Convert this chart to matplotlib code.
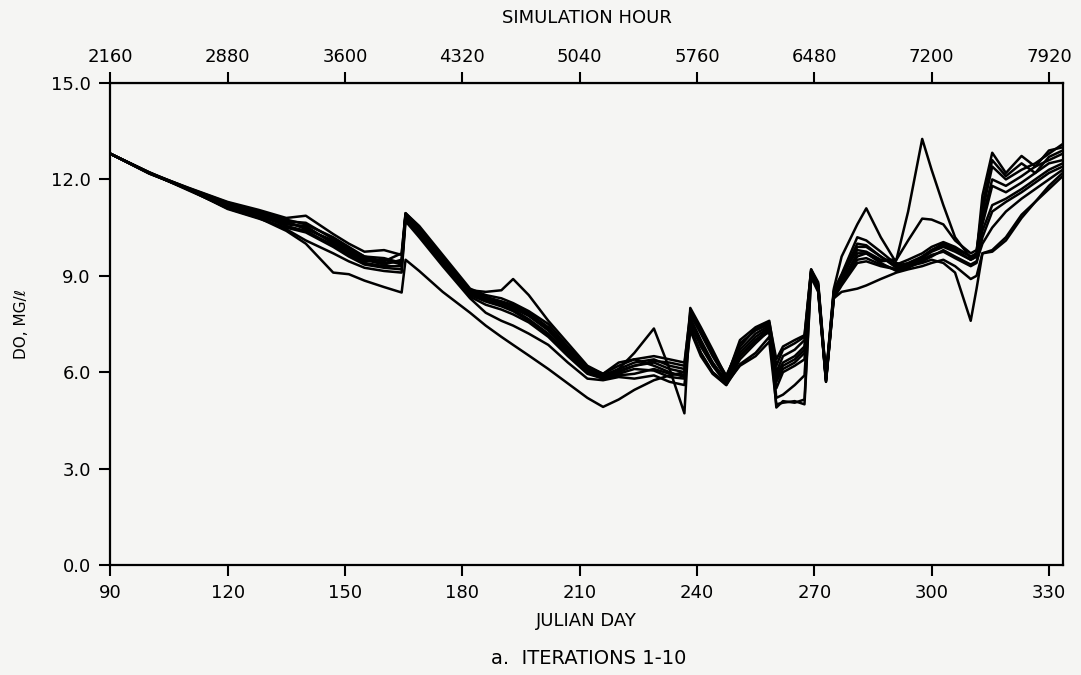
import numpy as np
import matplotlib.pyplot as plt

# julian day knots
days = [90, 100, 110, 120, 128, 135, 140, 147, 151, 155,
        160, 164.5, 165.5, 169, 175, 182, 186, 190, 193, 197,
        202, 207, 212, 216, 220, 224, 229, 233, 236.8, 238.3,
        241, 244, 247.5, 251, 255, 258.5, 260.3, 262, 265, 267.5,
        269.2, 271, 273, 275, 277, 281, 283.3, 287, 291, 294,
        297.6, 300, 303, 306, 310, 311.5, 313, 315.5, 319, 323,
        326.5, 330, 333.5]

# DO (mg/l), one list per iteration
it1 = [12.8, 12.2, 11.68, 11.1, 10.8, 10.4, 10.0, 9.1, 9.05, 8.85,
       8.65, 8.48, 9.5, 9.15, 8.5, 7.85, 7.45, 7.1, 6.85, 6.52,
       6.1, 5.65, 5.2, 4.92, 5.15, 5.45, 5.75, 5.9, 6.0, 7.4,
       6.6, 6.0, 5.65, 6.2, 6.5, 6.95, 5.0, 5.05, 5.1, 5.0,
       8.95, 8.5, 5.7, 8.3, 8.5, 8.6, 8.7, 8.9, 9.1, 9.2,
       9.3, 9.4, 9.5, 9.3, 8.9, 9.0, 9.7, 9.8, 10.2, 10.9,
       11.3, 11.8, 12.2]
it2 = [12.8, 12.22, 11.72, 11.25, 10.95, 10.7, 10.45, 10.1, 9.8, 9.55,
       9.4, 9.45, 10.9, 10.4, 9.5, 8.5, 8.3, 8.15, 8.0, 7.75,
       7.3, 6.65, 6.05, 5.85, 6.0, 6.2, 6.3, 6.1, 6.0, 7.7,
       7.0, 6.3, 5.7, 6.5, 7.0, 7.35, 5.9, 6.3, 6.5, 6.8,
       9.15, 8.7, 5.8, 8.5, 9.0, 9.8, 9.75, 9.5, 9.5, 11.0,
       13.26, 12.3, 11.2, 10.2, 9.55, 9.7, 11.5, 12.83, 12.2, 12.73,
       12.4, 12.9, 13.0]
it3 = [12.8, 12.18, 11.7, 11.15, 10.85, 10.6, 10.55, 10.0, 9.7, 9.45,
       9.5, 9.35, 10.85, 10.3, 9.4, 8.4, 8.2, 8.05, 7.9, 7.6,
       7.15, 6.55, 6.0, 5.8, 6.1, 6.6, 7.36, 6.1, 4.72, 8.0,
       7.4, 6.7, 5.85, 6.9, 7.3, 7.5, 4.9, 5.1, 5.05, 5.15,
       9.0, 8.6, 5.75, 8.4, 8.85, 9.6, 9.7, 9.45, 9.5, 10.1,
       10.78, 10.75, 10.6, 10.1, 9.7, 9.8, 11.0, 12.4, 12.0, 12.3,
       12.5, 12.8, 13.1]
it4 = [12.8, 12.2, 11.74, 11.3, 11.05, 10.8, 10.87, 10.3, 10.0, 9.75,
       9.8, 9.65, 10.95, 10.5, 9.6, 8.55, 8.5, 8.55, 8.9, 8.4,
       7.6, 6.9, 6.2, 5.95, 6.3, 6.4, 6.5, 6.4, 6.3, 7.8,
       7.2, 6.5, 5.8, 7.0, 7.4, 7.6, 6.2, 6.7, 6.9, 7.1,
       9.2, 8.8, 5.9, 8.6, 9.6, 10.6, 11.1, 10.2, 9.4, 9.3,
       9.6, 9.8, 10.0, 9.85, 9.6, 9.6, 10.6, 11.8, 11.6, 11.9,
       12.2, 12.5, 12.6]
it5 = [12.8, 12.21, 11.66, 11.12, 10.82, 10.45, 10.1, 9.7, 9.45, 9.25,
       9.15, 9.1, 10.7, 10.2, 9.3, 8.3, 7.85, 7.6, 7.45, 7.2,
       6.85, 6.3, 5.8, 5.75, 5.85, 5.8, 5.9, 5.7, 5.6, 7.3,
       6.5, 5.95, 5.6, 6.25, 6.6, 7.1, 5.5, 6.0, 6.2, 6.4,
       9.05, 8.55, 5.75, 8.3, 8.7, 9.4, 9.45, 9.3, 9.2, 9.3,
       9.4, 9.5, 9.4, 9.1, 7.6, 8.6, 9.7, 9.75, 10.1, 10.8,
       11.3, 11.7, 12.1]
it6 = [12.8, 12.19, 11.7, 11.22, 10.92, 10.65, 10.5, 10.05, 9.75, 9.5,
       9.35, 9.5, 10.9, 10.45, 9.5, 8.55, 8.35, 8.2, 8.05, 7.8,
       7.35, 6.7, 6.1, 5.9, 6.1, 6.3, 6.4, 6.2, 6.1, 7.6,
       6.9, 6.3, 5.7, 6.6, 7.1, 7.4, 5.2, 5.3, 5.6, 5.9,
       9.1, 8.65, 5.8, 8.45, 8.9, 9.9, 9.9, 9.6, 9.3, 9.4,
       9.6, 9.8, 9.95, 9.8, 9.5, 9.6, 10.4, 11.2, 11.4, 11.7,
       12.0, 12.3, 12.5]
it7 = [12.8, 12.2, 11.73, 11.28, 11.0, 10.75, 10.6, 10.2, 9.9, 9.6,
       9.45, 9.7, 10.95, 10.55, 9.65, 8.6, 8.4, 8.3, 8.15, 7.9,
       7.5, 6.8, 6.15, 5.95, 6.2, 6.4, 6.2, 6.0, 5.85, 7.5,
       6.85, 6.25, 5.75, 6.7, 7.2, 7.45, 6.0, 6.5, 6.7, 7.0,
       9.15, 8.75, 5.85, 8.55, 9.05, 10.2, 10.1, 9.75, 9.35, 9.5,
       9.7, 9.9, 10.05, 9.9, 9.6, 9.7, 11.2, 12.6, 12.1, 12.5,
       12.2, 12.7, 12.9]
it8 = [12.8, 12.22, 11.68, 11.18, 10.88, 10.55, 10.4, 9.95, 9.65, 9.4,
       9.3, 9.3, 10.85, 10.35, 9.45, 8.45, 8.25, 8.1, 7.95, 7.65,
       7.2, 6.6, 6.0, 5.85, 5.95, 6.1, 6.05, 5.85, 5.8, 7.35,
       6.6, 6.0, 5.6, 6.4, 6.9, 7.3, 5.7, 6.1, 6.3, 6.6,
       9.1, 8.6, 5.75, 8.4, 8.8, 9.7, 9.7, 9.4, 9.15, 9.25,
       9.45, 9.6, 9.8, 9.6, 9.35, 9.45, 10.0, 10.5, 11.0, 11.4,
       11.7, 12.0, 12.3]
it9 = [12.8, 12.18, 11.71, 11.2, 10.97, 10.7, 10.65, 10.15, 9.85, 9.6,
       9.55, 9.4, 10.9, 10.4, 9.55, 8.5, 8.3, 8.2, 8.1, 7.85,
       7.4, 6.75, 6.1, 5.9, 6.05, 6.2, 6.35, 6.3, 6.2, 7.9,
       7.3, 6.6, 5.9, 6.8, 7.35, 7.55, 6.4, 6.8, 7.0, 7.15,
       9.2, 8.7, 5.85, 8.5, 9.0, 10.0, 9.95, 9.6, 9.25, 9.35,
       9.55, 9.75, 9.9, 9.75, 9.5, 9.6, 10.8, 12.0, 11.8, 12.1,
       12.4, 12.6, 12.8]
it10 = [12.8, 12.2, 11.69, 11.08, 10.78, 10.5, 10.35, 9.9, 9.6, 9.35,
        9.25, 9.2, 10.8, 10.25, 9.35, 8.35, 8.1, 7.95, 7.8, 7.55,
        7.1, 6.5, 5.95, 5.8, 5.9, 5.95, 6.1, 5.95, 5.9, 7.55,
        6.8, 6.2, 5.65, 6.5, 7.0, 7.25, 5.8, 6.2, 6.4, 6.7,
        9.05, 8.55, 5.7, 8.35, 8.75, 9.5, 9.55, 9.35, 9.2, 9.3,
        9.5, 9.65, 9.75, 9.55, 9.3, 9.4, 10.2, 11.0, 11.3, 11.6,
        11.9, 12.2, 12.4]

hour_ticks = [2160, 2880, 3600, 4320, 5040, 5760, 6480, 7200, 7920]
day_ticks = [90, 120, 150, 180, 210, 240, 270, 300, 330]
do_ticks = [0, 3, 6, 9, 12, 15]

fig = plt.figure(figsize=(10.81, 6.75), dpi=100, facecolor='#f5f5f3')
ax = fig.add_axes([0.102, 0.163, 0.881, 0.714])
ax.set_facecolor('#f5f5f3')

for it in [it1, it2, it3, it4, it5, it6, it7, it8, it9, it10]:
    ax.plot(days, it, color='black', lw=1.8)

ax.set_xlim(90, 333.5)
ax.set_ylim(0, 15)
ax.set_xticks(day_ticks)
ax.set_yticks(do_ticks)
ax.set_yticklabels([f'{v:.1f}' for v in do_ticks])
ax.tick_params(direction='out', length=8, width=1.5, labelsize=13, pad=6)
for s in ax.spines.values():
    s.set_linewidth(1.6)

ax.set_xlabel('JULIAN DAY', fontsize=13, labelpad=7)
ax.set_ylabel('DO, MG/ℓ', fontsize=11, labelpad=16)

top = ax.secondary_xaxis('top', functions=(lambda d: d * 24, lambda h: h / 24))
top.set_xticks(hour_ticks)
top.tick_params(direction='out', length=8, width=1.5, labelsize=13, pad=4)
top.set_xlabel('SIMULATION HOUR', fontsize=13, labelpad=18)

fig.text(0.545, 0.016, 'a.  ITERATIONS 1-10', fontsize=14, ha='center', va='baseline')

fig.savefig('out.png', dpi=100, facecolor=fig.get_facecolor())
